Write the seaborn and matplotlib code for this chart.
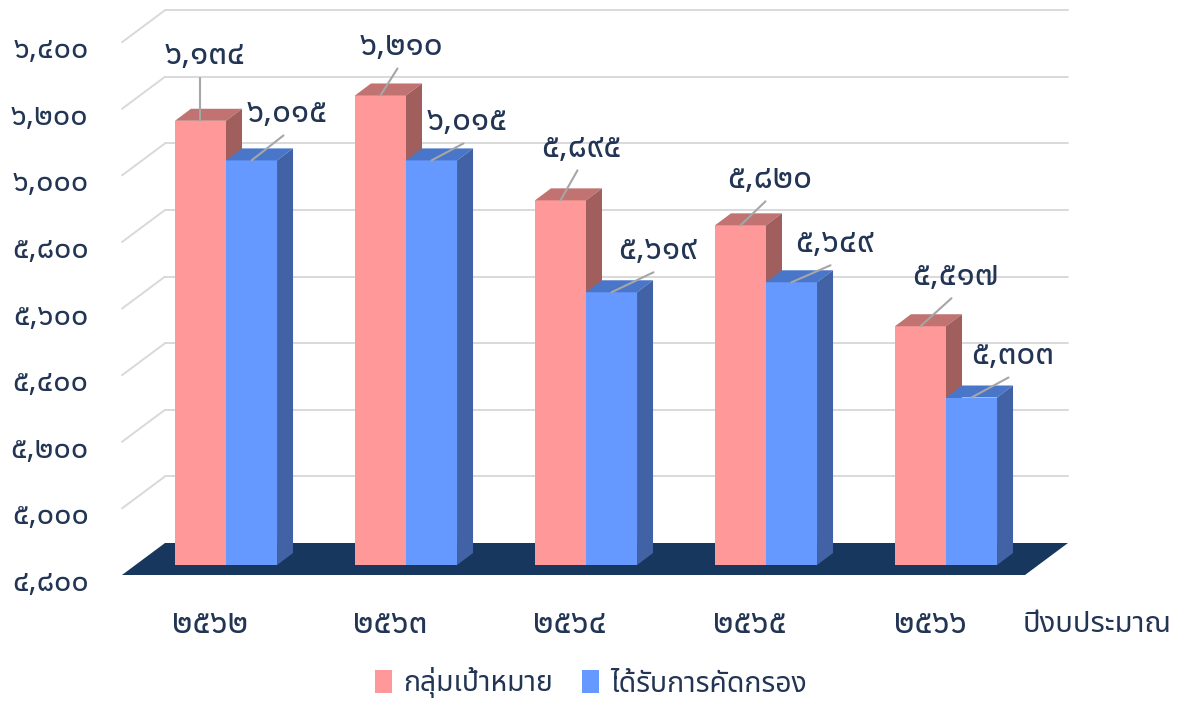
import numpy as np
import pandas as pd
import matplotlib
matplotlib.use("Agg")
import matplotlib.pyplot as plt
from matplotlib import font_manager
from matplotlib.ft2font import FT2Font
from matplotlib.patches import Polygon
from matplotlib.transforms import ScaledTranslation
import seaborn as sns

# data
years = ['๒๕๖๒', '๒๕๖๓', '๒๕๖๔', '๒๕๖๕', '๒๕๖๖']
series = ['กลุ่มเป้าหมาย', 'ได้รับการคัดกรอง']
target = [6134, 6210, 5895, 5820, 5517]
screened = [6015, 6015, 5619, 5649, 5303]
y_ticks = [4800, 5000, 5200, 5400, 5600, 5800, 6000, 6200, 6400]
x_title = 'ปีงบประมาณ'

# styles
PINK, BLUE = '#FF9999', '#6699FF'
TOPS = ['#C07370', '#4A76C9']
SIDES = ['#A05F5D', '#4163A5']
FLOOR = '#17375E'
GRID = '#D9D9D9'
LEADER = '#A6A6A6'
TEXT = '#233554'

# leader line offsets in pixels (right, up) for each bar
leaders = [
    [(0, 43), (17, 27), (17, 30), (25, 24), (31, 28)],
    [(32, 25), (32, 17), (42, 20), (39, 17), (37, 20)],
]

THAI = str.maketrans('0123456789', '๐๑๒๓๔๕๖๗๘๙')


def find_thai_font():
    preferred = ['Noto Sans Thai', 'Noto Sans Thai UI', 'Noto Sans Thai Looped',
                 'Sarabun', 'Loma', 'Garuda', 'Waree', 'Tlwg Typo', 'Kinnari',
                 'Norasi', 'Umpush', 'Noto Serif Thai']
    found = {}
    for f in font_manager.fontManager.ttflist:
        try:
            cm = FT2Font(f.fname).get_charmap()
        except Exception:
            continue
        if 0x0E01 in cm and 0x0E51 in cm:
            found.setdefault(f.name, f.fname)
    for name in preferred:
        if name in found:
            return name
    if found:
        return sorted(found)[0]
    return 'DejaVu Sans'


sns.set_theme(style='white')
thai_font = find_thai_font()
plt.rcParams['font.family'] = [thai_font, 'DejaVu Sans']

W, H = 1178, 701
fig = plt.figure(figsize=(W / 100, H / 100), dpi=100)
# axes bottom sits on the bar plane at 4800
ax = fig.add_axes([122 / W, (H - 565) / H, (W - 122) / W, 565 / H])

df = pd.DataFrame({
    'year': years * 2,
    'group': [series[0]] * len(years) + [series[1]] * len(years),
    'value': target + screened,
})
sns.barplot(data=df, x='year', y='value', hue='group', order=years,
            hue_order=series, palette=[PINK, BLUE], width=0.567,
            saturation=1, errorbar=None, linewidth=0, ax=ax)

PX_X = 180.0          # pixels per category
PX_V = 66.6 / 200     # pixels per value unit
ax.set_xlim((122 - 226) / PX_X, (W - 226) / PX_X)
ax.set_ylim(4800, 4800 + 565 / PX_V)


def off(dx, dy):
    return dx / PX_X, dy / PX_V


bar_d = off(16, 12)
front = off(-13, -10)
back = off(30, 22)
xl, xr = (135 - 226) / PX_X, (1038 - 226) / PX_X
base = y_ticks[0]

# floor
floor = Polygon([(xl + front[0], base + front[1]), (xr + front[0], base + front[1]),
                 (xr + back[0], base + back[1]), (xl + back[0], base + back[1])],
                closed=True, facecolor=FLOOR, edgecolor='none', zorder=1, clip_on=False)
ax.add_patch(floor)

# back wall grid and left diagonals
for t in y_ticks[1:]:
    ax.plot([xl + back[0], xr + back[0]], [t + back[1], t + back[1]],
            color=GRID, lw=1.4, zorder=0.5, clip_on=False)
    ax.plot([xl + front[0], xl + back[0]], [t + front[1], t + back[1]],
            color=GRID, lw=1.4, zorder=0.5, clip_on=False)

# 3d faces and labels
for k, cont in enumerate(ax.containers):
    for i, bar in enumerate(cont):
        bar.set_zorder(3 + k)
        L = bar.get_x()
        R = L + bar.get_width()
        v = bar.get_y() + bar.get_height()
        top = Polygon([(L, v), (R, v), (R + bar_d[0], v + bar_d[1]), (L + bar_d[0], v + bar_d[1])],
                      closed=True, facecolor=TOPS[k], edgecolor='none', zorder=3.1 + k)
        side = Polygon([(R, base), (R, v), (R + bar_d[0], v + bar_d[1]), (R + bar_d[0], base + bar_d[1])],
                       closed=True, facecolor=SIDES[k], edgecolor='none', zorder=3.1 + k)
        ax.add_patch(top)
        ax.add_patch(side)

        cx = L + bar.get_width() / 2
        ldx, ldy = off(*leaders[k][i])
        ex, ey = cx + ldx, v + ldy
        ax.plot([cx, ex], [v, ey], color=LEADER, lw=1.5, zorder=6)
        tdx, tdy = off(4, 22)
        ax.text(ex + tdx, ey + tdy, f'{v:,.0f}'.translate(THAI), ha='center', va='center',
                fontsize=24, color=TEXT, zorder=7)

# axes, ticks
ax.set_yticks(y_ticks, labels=[f'{t:,}'.translate(THAI) for t in y_ticks])
ax.tick_params(axis='y', length=0, pad=24, labelsize=22, labelcolor=TEXT)
for lab in ax.get_yticklabels():
    lab.set_transform(lab.get_transform() + ScaledTranslation(0, -0.146, fig.dpi_scale_trans))

ax.set_xticks(range(len(years)), labels=years)
ax.tick_params(axis='x', length=0, pad=43, labelsize=24, labelcolor=TEXT)
for lab in ax.get_xticklabels():
    lab.set_va('center')
    lab.set_transform(lab.get_transform() + ScaledTranslation(-0.16, 0, fig.dpi_scale_trans))

ax.set_ylabel('')
ax.set_xlabel(x_title, fontsize=21, color=TEXT, va='center')
ax.xaxis.set_label_coords((1097 - 122) / (W - 122), -60 / 565)
for s in ax.spines.values():
    s.set_visible(False)
ax.grid(False)

handles, labels = ax.get_legend_handles_labels()
ax.legend(handles, labels, loc='center', bbox_to_anchor=(591 / W, 1 - 683 / H),
          bbox_transform=fig.transFigure, ncol=2, frameon=False, fontsize=20.4,
          handlelength=0.6, handleheight=0.9, handletextpad=0.4, columnspacing=1.05,
          labelcolor=TEXT)

fig.savefig('out.png', dpi=100)
